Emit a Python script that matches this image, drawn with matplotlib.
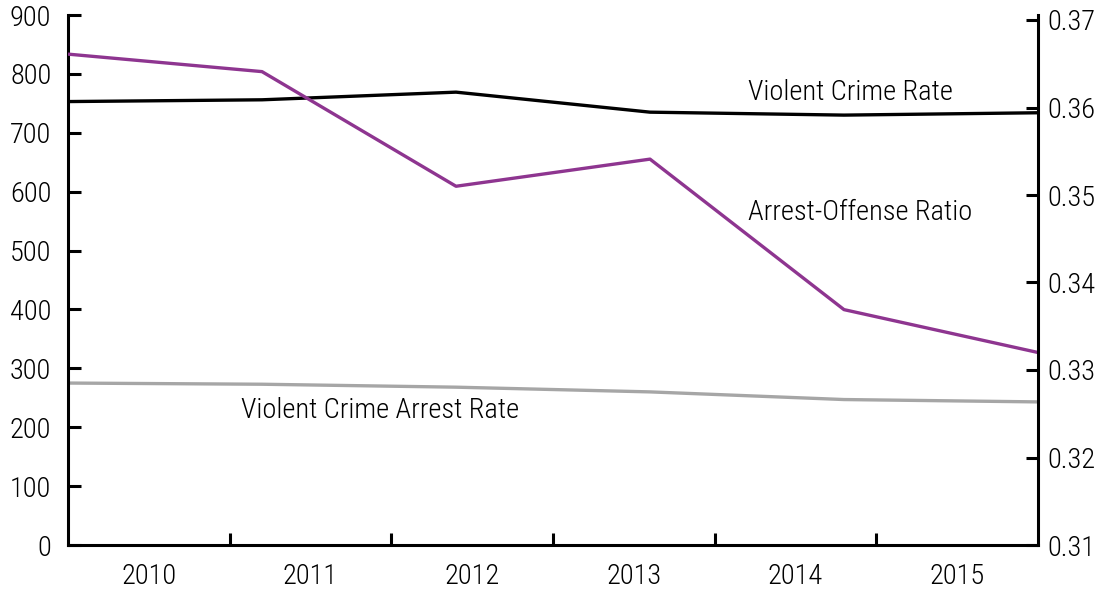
import numpy as np
import matplotlib
matplotlib.use("Agg")
import matplotlib.pyplot as plt
from matplotlib import font_manager as fm

years = ["2010", "2011", "2012", "2013", "2014", "2015"]
violent_crime_rate = [753, 756, 769, 735, 730, 734]
violent_crime_arrest_rate = [275, 273, 268, 260, 247, 243]
arrest_offense_ratio = [0.3661, 0.3641, 0.3510, 0.3541, 0.3369, 0.3320]
left_ticks = [0, 100, 200, 300, 400, 500, 600, 700, 800, 900]
right_ticks = [0.31, 0.32, 0.33, 0.34, 0.35, 0.36, 0.37]

names = {f.name for f in fm.fontManager.ttflist}
fam = "DejaVu Sans"
for cand in ["Liberation Sans Narrow", "Roboto Condensed", "PT Sans Narrow", "Archivo Narrow"]:
    if cand in names:
        fam = cand
        break
plt.rcParams["font.family"] = [fam, "DejaVu Sans"]
plt.rcParams["font.weight"] = "light"

BLACK = "#000000"
PURPLE = "#8E3590"
GRAY = "#A6A6A6"
LW = 2.4
FS = 20.5

fig = plt.figure(figsize=(11.03, 5.91), dpi=100)
ax = fig.add_axes([68/1103, 1-545/591, 970/1103, 530/591])
ax2 = ax.twinx()

n = len(years)
xs = np.linspace(0, n, n)
ax.plot(xs, violent_crime_rate, color=BLACK, lw=LW, solid_capstyle="butt")
ax.plot(xs, violent_crime_arrest_rate, color=GRAY, lw=LW, solid_capstyle="butt")
ax2.plot(xs, arrest_offense_ratio, color=PURPLE, lw=LW, solid_capstyle="butt")

ax.set_xlim(0, n)
ax.set_ylim(0, 900)
ax2.set_ylim(0.31, 0.31 + 0.06 * 530 / 525)

ax.set_yticks(left_ticks)
ax.set_yticklabels([str(v) for v in left_ticks])
ax2.set_yticks(right_ticks)
ax2.set_yticklabels([f"{v:.2f}" for v in right_ticks])

ax.set_xticks(np.arange(1, n))
ax.set_xticklabels([])
ax.set_xticks(np.arange(n) + 0.5, minor=True)
ax.set_xticklabels(years, minor=True)

ax.tick_params(axis="x", which="major", direction="in", length=9, width=2.2)
ax.tick_params(axis="x", which="minor", length=0, pad=13, labelsize=FS)
ax.tick_params(axis="y", direction="in", length=9, width=2.2, labelsize=FS, pad=12)
ax2.tick_params(axis="y", direction="in", length=9, width=2.2, labelsize=FS, pad=7)

for a in (ax, ax2):
    a.spines["top"].set_visible(False)
    for s in ("left", "right", "bottom"):
        a.spines[s].set_linewidth(2.2)
ax.spines["right"].set_visible(False)
ax2.spines["left"].set_visible(False)
ax2.spines["bottom"].set_visible(False)

ax.text(4.206, 769, "Violent Crime Rate", fontsize=FS, va="center", ha="left")
ax.text(4.206, 564, "Arrest-Offense Ratio", fontsize=FS, va="center", ha="left")
ax.text(1.07, 229, "Violent Crime Arrest Rate", fontsize=FS, va="center", ha="left")

fig.savefig("out.png", dpi=100)
